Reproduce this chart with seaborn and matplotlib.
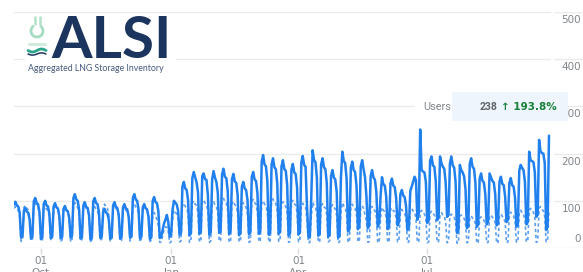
import matplotlib
matplotlib.use("Agg")
import matplotlib.pyplot as plt
import matplotlib.transforms as mtrans
from matplotlib.patches import Rectangle, Arc
import numpy as np
import pandas as pd
import seaborn as sns

# ---------------- data ----------------
start_date = "2022-09-12"

users_sep_dec = [
    92, 98, 90, 88, 75, 22, 25,
    79, 85, 77, 75, 61, 20, 24,
    99, 106, 95, 93, 76, 19, 22,
    93, 100, 90, 88, 72, 21, 25,
    88, 95, 86, 84, 68, 20, 23,
    83, 89, 80, 78, 64, 22, 26,
    106, 114, 103, 100, 82, 20, 23,
    90, 97, 87, 85, 70, 18, 21,
    99, 106, 95, 93, 76, 21, 24,
    77, 83, 75, 73, 60, 19, 22,
    90, 97, 87, 85, 70, 20, 23,
    86, 93, 84, 82, 67, 22, 25,
    106, 114, 103, 100, 82, 20, 24,
    86, 93, 84, 82, 67, 19, 22,
    100, 108, 97, 95, 78, 21, 24,
    38, 52, 60, 70, 55, 24, 28,
]
users_jan_mar = [
    80, 100, 96, 92, 78, 28, 32,
    130, 140, 126, 123, 101, 27, 31,
    148, 161, 150, 139, 118, 30, 34,
    152, 158, 146, 144, 112, 28, 33,
    145, 163, 149, 140, 117, 32, 36,
    156, 168, 151, 148, 121, 30, 35,
    146, 157, 141, 138, 113, 27, 31,
    130, 140, 126, 123, 101, 29, 33,
    150, 161, 145, 142, 116, 30, 35,
    183, 197, 177, 173, 142, 28, 32,
    177, 190, 171, 167, 137, 30, 34,
    173, 186, 167, 164, 134, 27, 31,
    166, 178, 160, 157, 128, 29, 33,
]
users_apr_jun = [
    181, 195, 176, 172, 90, 24, 22,
    105, 207, 186, 182, 149, 26, 30,
    177, 190, 171, 167, 137, 24, 28,
    153, 165, 149, 145, 119, 22, 26,
    150, 204, 184, 180, 147, 35, 40,
    170, 183, 165, 161, 132, 40, 46,
    173, 186, 167, 150, 110, 42, 48,
    153, 165, 149, 145, 119, 45, 52,
    110, 150, 135, 132, 108, 40, 46,
    137, 147, 132, 129, 106, 48, 55,
    114, 123, 111, 108, 89, 38, 44,
    121, 130, 140, 151, 144, 60, 74,
    251, 165, 162, 160, 140, 53, 59,
]
users_jul_sep = [
    185, 194, 175, 172, 141, 59, 64,
    194, 180, 172, 168, 138, 66, 70,
    179, 194, 175, 170, 140, 32, 38,
    176, 165, 160, 152, 125, 42, 46,
    178, 190, 172, 168, 138, 45, 50,
    147, 158, 142, 139, 114, 50, 56,
    158, 150, 142, 139, 114, 48, 52,
    140, 151, 136, 133, 109, 55, 60,
    138, 148, 133, 130, 107, 45, 50,
    164, 176, 170, 165, 140, 50, 55,
    204, 186, 184, 182, 160, 66, 70,
    229, 205, 201, 200, 180, 38, 45,
    238,
]

prev_sep_dec = [
    84, 88, 82, 80, 67, 14, 16,
    86, 90, 84, 81, 68, 15, 18,
    90, 95, 88, 86, 71, 14, 17,
    84, 88, 82, 79, 66, 16, 18,
    87, 92, 86, 83, 69, 15, 17,
    81, 85, 79, 77, 64, 13, 16,
    91, 96, 89, 86, 72, 15, 18,
    86, 90, 84, 81, 68, 14, 17,
    84, 88, 82, 79, 66, 16, 19,
    88, 93, 86, 84, 70, 15, 17,
    86, 90, 84, 81, 68, 14, 16,
    82, 86, 80, 77, 65, 15, 18,
    89, 94, 87, 85, 71, 16, 18,
    85, 89, 83, 80, 67, 14, 17,
    71, 75, 70, 60, 48, 12, 13,
    25, 38, 45, 44, 35, 11, 13,
]
prev_jan_mar = [
    60, 80, 76, 72, 60, 13, 15,
    90, 95, 88, 86, 71, 12, 14,
    95, 100, 93, 90, 75, 13, 15,
    97, 102, 95, 92, 77, 12, 15,
    93, 98, 91, 88, 74, 14, 16,
    100, 105, 98, 95, 79, 12, 14,
    94, 99, 92, 89, 74, 13, 15,
    91, 96, 89, 86, 72, 12, 14,
    98, 103, 96, 93, 77, 13, 16,
    95, 100, 93, 90, 75, 12, 15,
    99, 104, 97, 94, 78, 14, 16,
    93, 98, 91, 88, 74, 12, 14,
    96, 101, 94, 91, 76, 13, 15,
]
prev_apr_jun = [
    90, 95, 88, 86, 60, 11, 12,
    65, 97, 90, 87, 73, 12, 14,
    89, 94, 87, 85, 71, 13, 15,
    87, 92, 86, 83, 69, 11, 13,
    75, 96, 89, 86, 72, 12, 14,
    88, 93, 86, 84, 70, 13, 15,
    86, 90, 84, 70, 58, 12, 14,
    84, 88, 82, 79, 66, 11, 13,
    65, 86, 80, 77, 65, 12, 14,
    81, 85, 79, 77, 64, 13, 15,
    78, 82, 76, 74, 62, 11, 13,
    80, 84, 78, 76, 63, 12, 14,
    76, 80, 74, 72, 60, 11, 13,
]
prev_jul_sep = [
    74, 78, 73, 70, 59, 12, 14,
    71, 75, 70, 68, 56, 11, 13,
    68, 72, 67, 65, 54, 10, 12,
    67, 70, 65, 63, 53, 11, 13,
    65, 68, 63, 61, 51, 10, 12,
    63, 66, 61, 59, 50, 11, 12,
    67, 70, 65, 63, 53, 10, 12,
    68, 72, 67, 65, 54, 11, 13,
    72, 76, 71, 68, 57, 12, 14,
    76, 80, 74, 72, 60, 13, 15,
    80, 84, 78, 76, 63, 12, 14,
    84, 88, 82, 79, 66, 13, 15,
    81,
]

ytick_values = [0, 100, 200, 300, 400, 500]
xtick_dates = ["2022-10-01", "2023-01-01", "2023-04-01", "2023-07-01"]
xtick_labels = ["01\nOct", "01\nJan", "01\nApr", "01\nJul"]

tooltip_label = "Users"
tooltip_value = "238"
tooltip_change = "\u2191 193.8%"
logo_title = "ALSI"
logo_subtitle = "Aggregated LNG Storage Inventory"

users = users_sep_dec + users_jan_mar + users_apr_jun + users_jul_sep
prev = prev_sep_dec + prev_jan_mar + prev_apr_jun + prev_jul_sep
dates = pd.date_range(start_date, periods=len(users), freq="D")
df = pd.DataFrame({"date": dates, "users": users, "prev": prev})

# ---------------- style ----------------
sns.set_theme(style="white")
plt.rcParams["font.family"] = ["DejaVu Sans"]

line_color = "#2080ee"
prev_color = "#5fa0f0"
grid_color = "#ebebeb"
label_color = "#80868b"

W, H = 583, 272
fig = plt.figure(figsize=(W / 100, H / 100), dpi=100)
ax = fig.add_axes([14 / W, (H - 248) / H, (W - 14) / W, (248 - 12) / H])

sns.lineplot(data=df, x="date", y="prev", ax=ax, color=prev_color,
             linewidth=1.2, linestyle=(0, (2, 1.6)), estimator=None,
             errorbar=None, zorder=2)
sns.lineplot(data=df, x="date", y="users", ax=ax, color=line_color,
             linewidth=1.8, estimator=None, errorbar=None, zorder=3)

px_per_day = (549 - 14) / (len(dates) - 1)
ax.set_xlim(dates[0], dates[-1] + pd.Timedelta(days=(W - 549) / px_per_day))
ax.set_ylim(0, 500)
ax.set_yticks(ytick_values)
ax.grid(axis="y", color=grid_color, linewidth=1)
ax.grid(axis="x", visible=False)
for s in ax.spines.values():
    s.set_visible(False)
ax.tick_params(axis="y", length=0, labelleft=False, labelright=False)
ax.set_xticks(pd.to_datetime(xtick_dates))
ax.set_xticklabels(xtick_labels)
ax.tick_params(axis="x", bottom=True, length=4, width=1, color="#dadce0",
               pad=2, labelsize=7.5, labelcolor=label_color)
ax.set_xlabel("")
ax.set_ylabel("")

trans = mtrans.blended_transform_factory(ax.transAxes, ax.transData)
for v in ytick_values:
    dy = 9 if v == 0 else -8
    t = mtrans.offset_copy(trans, fig=fig, x=-2, y=dy, units="dots")
    ax.text(1.0, v, str(v), transform=t, ha="right", va="center",
            fontsize=7.5, color=label_color, clip_on=False)

# ---------------- overlay (logo + tooltip) ----------------
ov = fig.add_axes([0, 0, 1, 1], zorder=10)
ov.set_xlim(0, W)
ov.set_ylim(H, 0)
ov.axis("off")
ov.patch.set_alpha(0)

# gap between plot and label column
ov.add_patch(Rectangle((550.5, 8), 3, 244, color="white", lw=0))

# logo
ov.add_patch(Rectangle((25, 14), 151, 62, color="white", lw=0))
ov.text(51, 58, logo_title, fontsize=42, family=["Lato", "DejaVu Sans"],
        fontweight="bold", color="#1c355e", ha="left", va="baseline")
ov.text(28, 68.5, logo_subtitle, fontsize=6.3, family=["Lato", "DejaVu Sans"],
        color="#475a80", ha="left", va="center")
ov.add_patch(Arc((37, 31), 12, 12, theta1=300, theta2=240, lw=2.0,
                 color="#a6dcc2"))
ov.plot([34.5, 34.5], [17, 23.5], color="#b2e0c9", lw=1.8)
ov.plot([39.5, 39.5], [17, 23.5], color="#b2e0c9", lw=1.8)
ov.plot([28, 46], [44, 44], color="#cdebd9", lw=2.0, solid_capstyle="butt")
wx = np.linspace(28, 46, 30)
ov.plot(wx, 50.5 + 1.5 * np.sin((wx - 28) / 18 * 2 * np.pi), color="#2aa58c", lw=2.0)
ov.plot(wx, 54 + 1.1 * np.sin((wx - 28) / 18 * 2 * np.pi), color="#1c355e", lw=1.1)

# tooltip
ov.add_patch(Rectangle((415, 92), 37, 29, color="white", lw=0))
ov.add_patch(Rectangle((452, 92), 116, 29, color="#eef5fc", lw=0))
ov.text(423, 107.5, tooltip_label, fontsize=7.8, family=["Roboto", "DejaVu Sans"],
        color=label_color, ha="left", va="center")
ov.text(480, 107.5, tooltip_value, fontsize=7.5, family=["Roboto", "DejaVu Sans"],
        fontweight="bold", color="#5f6368", ha="left", va="center")
ov.text(501, 107.5, tooltip_change, fontsize=7.5, family=["DejaVu Sans"],
        fontweight="bold", color="#188038", ha="left", va="center")

fig.savefig("out.png", dpi=100)
